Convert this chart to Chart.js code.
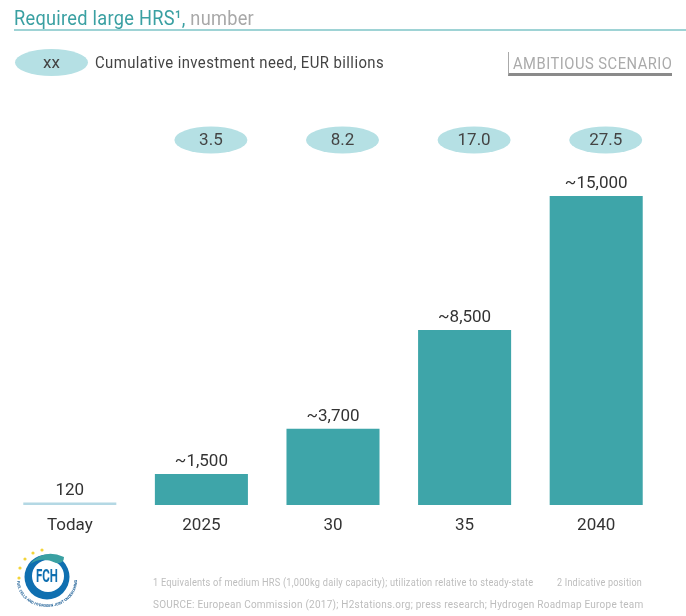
<!DOCTYPE html>
<html>
<head>
<meta charset="utf-8">
<script src="https://cdn.jsdelivr.net/npm/chart.js@4"></script>
<style>
  body { margin: 0; background: #fff; font-family: Roboto, sans-serif; }
  #wrap { position: relative; width: 686px; height: 616px; overflow: hidden; }
  canvas { display: block; position: absolute; left: 0; top: 0; }
  .abs { position: absolute; white-space: nowrap; transform-origin: left center; }
  #title { left: 14px; top: 6px; font-size: 20px; line-height: 24px; color: #3aa0a2; letter-spacing: .3px; transform: scaleX(.91); }
  #title span { color: #a8a8a8; }
  #rule { left: 14px; right: 0; top: 29px; height: 2px; background: #9ed3d5; }
  #legendText { left: 95px; top: 53px; font-size: 16px; line-height: 20px; color: #444; letter-spacing: .45px; transform: scaleX(.93); }
  #scenario { left: 508px; top: 52px; width: 163px; height: 21px; border-left: 1px solid #aaa; border-bottom: 3px solid #8a8a8a; }
  #scenario div { margin-left: 4px; font-size: 16px; line-height: 23px; color: #aaa; letter-spacing: .55px; transform: scaleX(.92); transform-origin: left center; white-space: nowrap; }
  .note { font-size: 10.5px; line-height: 14px; color: #bdbdbd; letter-spacing: .25px; }
  #logo { left: 12px; top: 544px; }
</style>
</head>
<body>
<div id="wrap">
  <canvas id="chart" width="686" height="616"></canvas>
  <div class="abs" id="title">Required large HRS¹, <span>number</span></div>
  <div class="abs" id="rule"></div>
  <div class="abs" id="legendText">Cumulative investment need, EUR billions</div>
  <div class="abs" id="scenario"><div>AMBITIOUS SCENARIO</div></div>
  <div class="abs note" style="left:153px;top:576px;transform:scaleX(.88)">1 Equivalents of medium HRS (1,000kg daily capacity); utilization relative to steady-state</div>
  <div class="abs note" style="left:557px;top:576px;transform:scaleX(.86)">2 Indicative position</div>
  <div class="abs note" style="left:153px;top:598px;transform:scaleX(.953)">SOURCE: European Commission (2017); H2stations.org; press research; Hydrogen Roadmap Europe team</div>
  <svg class="abs" id="logo" width="70" height="70" viewBox="0 0 70 70">
    <defs>
      <path id="arc" d="M5 37 A 30 26 0 0 0 65 37"></path>
    </defs>
    <circle cx="35" cy="33" r="22.5" fill="#0f6fb0"></circle>
    <circle cx="36" cy="32" r="16" fill="#fff"></circle>
    <path d="M18 20 Q32 4 52 13 Q52 20 44 19 Q30 12 18 20 Z" fill="#3aa0a2"></path>
    <text x="35" y="38" text-anchor="middle" font-size="18" font-weight="bold" fill="#0f6fb0" textLength="22" lengthAdjust="spacingAndGlyphs">FCH</text>
    <text font-size="3.8" font-weight="bold" fill="#1d5f96"><textPath href="#arc">FUEL CELLS AND HYDROGEN JOINT UNDERTAKING</textPath></text>
    <g fill="#f2d43a">
      <circle cx="30" cy="6" r="1.6"></circle><circle cx="21" cy="9" r="1.6"></circle>
      <circle cx="13" cy="15" r="1.6"></circle><circle cx="8" cy="24" r="1.6"></circle>
      <circle cx="7" cy="34" r="1.6"></circle>
    </g>
  </svg>
</div>
<script>
const categories = ["Today", "2025", "30", "35", "2040"];
const stations = [120, 1500, 3700, 8500, 15000];
const stationLabels = ["120", "~1,500", "~3,700", "~8,500", "~15,000"];
const investment = [null, "3.5", "8.2", "17.0", "27.5"];
const barColors = ["#b4d8e4", "#3ea5a9", "#3ea5a9", "#3ea5a9", "#3ea5a9"];

function bubble(ctx, x, y, text) {
  ctx.fillStyle = "#b5e0e4";
  ctx.beginPath();
  ctx.ellipse(x, y, 36.5, 13.5, 0, 0, Math.PI * 2);
  ctx.fill();
  ctx.fillStyle = "#444";
  ctx.fillText(text, x, y + 1);
}

const overlays = {
  id: "overlays",
  afterDatasetsDraw(c) {
    const ctx = c.ctx;
    const x = c.scales.x;
    const y = c.scales.y;
    ctx.save();
    ctx.textAlign = "center";
    ctx.textBaseline = "middle";
    ctx.font = "17px Roboto, sans-serif";
    stationLabels.forEach((label, i) => {
      ctx.fillStyle = "#333";
      ctx.fillText(label, x.getPixelForValue(i), y.getPixelForValue(stations[i]) - 12);
    });
    investment.forEach((label, i) => {
      if (label) bubble(ctx, x.getPixelForValue(i) + 9.5, 140, label);
    });
    bubble(ctx, 51.5, 62.5, "xx");
    ctx.restore();
  }
};

new Chart(document.getElementById("chart"), {
  type: "bar",
  data: {
    labels: categories,
    datasets: [{
      data: stations,
      backgroundColor: barColors,
      categoryPercentage: 1,
      barPercentage: 0.707
    }]
  },
  options: {
    responsive: false,
    animation: false,
    layout: { padding: { left: 4, right: 24, top: 196, bottom: 0 } },
    plugins: { legend: { display: false }, tooltip: { enabled: false } },
    scales: {
      x: {
        grid: { display: false },
        border: { display: false },
        ticks: { color: "#333", font: { size: 17, family: "Roboto, sans-serif" }, padding: 3, maxRotation: 0 },
        afterFit(scale) { scale.height = 111; }
      },
      y: { display: false, min: 0, max: 15000 }
    }
  },
  plugins: [overlays]
});
</script>
</body>
</html>
